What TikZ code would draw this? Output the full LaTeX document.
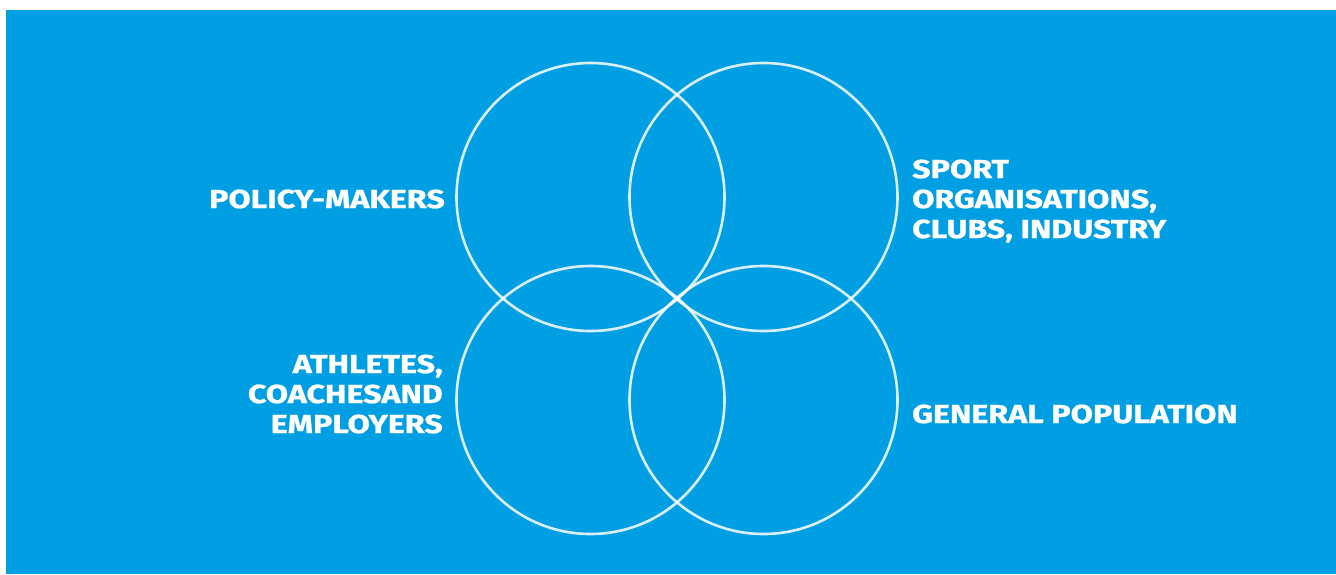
\documentclass[tikz,border=0pt]{standalone}
\usepackage{fontspec}
\setmainfont{Fira Sans}
\newfontfamily\lblfont[FakeStretch=1.24, FakeBold=1]{Fira Sans}
\definecolor{bgblue}{RGB}{0,159,227}
\tikzset{
  ring/.style={draw=white, line width=2.6pt, opacity=0.85},
  lbl/.style={text=white, inner sep=0pt, font=\lblfont\fontsize{26}{30}\selectfont\bfseries},
}
\begin{document}
\begin{tikzpicture}[x=1pt,y=-1pt]
\useasboundingbox (0,0) rectangle (1336,574);
\fill[bgblue] (6,10) rectangle (1336,574);
\node[ring, circle, minimum size=268pt, inner sep=0pt] (tl) at (590.5,197) {};
\node[ring, circle, minimum size=268pt, inner sep=0pt] (tr) at (763.5,197) {};
\node[ring, circle, minimum size=268pt, inner sep=0pt] (bl) at (590.5,400) {};
\node[ring, circle, minimum size=268pt, inner sep=0pt] (br) at (763.5,400) {};
\node[lbl, anchor=base east] (pm) at (445,208) {POLICY-MAKERS};
\node[lbl, anchor=base west] (sp1) at (912,178) {SPORT};
\node[lbl, anchor=base west] (sp2) at (912,208) {ORGANISATIONS,};
\node[lbl, anchor=base west] (sp3) at (912,238) {CLUBS, INDUSTRY};
\node[lbl, anchor=base east] (at1) at (443,373) {ATHLETES,};
\node[lbl, anchor=base east] (at2) at (443,403) {COACHESAND};
\node[lbl, anchor=base east] (at3) at (443,433) {EMPLOYERS};
\node[lbl, anchor=base west] (gp) at (912,423) {GENERAL POPULATION};
\end{tikzpicture}
\end{document}
